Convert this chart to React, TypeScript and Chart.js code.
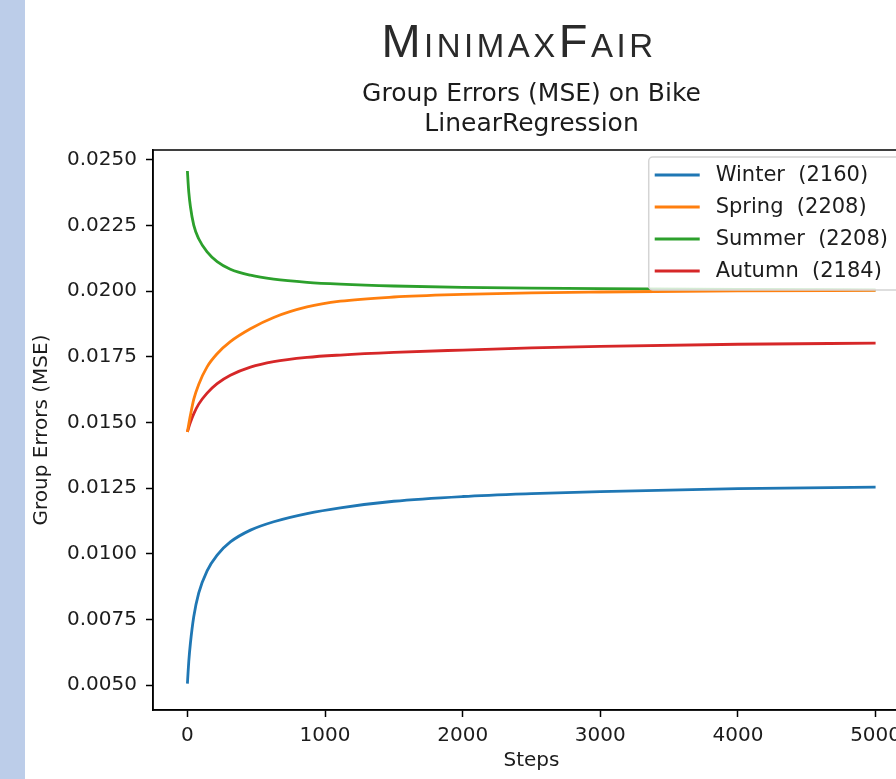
import React, { useEffect, useRef } from 'react';
import { Chart, registerables } from 'chart.js';

Chart.register(...registerables);

// ---- data ----
const steps = [0, 5, 10, 22, 46, 82, 143, 216, 312, 458, 627, 869, 1111, 1500, 2000, 2500, 3000, 4000, 5000];
const winter = [0.00505, 0.0055, 0.0059, 0.0066, 0.0076, 0.0085, 0.00935, 0.00995, 0.01045, 0.0109, 0.01122, 0.01153, 0.01175, 0.0120, 0.01218, 0.01229, 0.01237, 0.01248, 0.01254];
const spring = [0.01464, 0.01479, 0.01494, 0.01528, 0.01588, 0.01645, 0.01712, 0.01762, 0.01808, 0.01857, 0.019, 0.0194, 0.01962, 0.01978, 0.01988, 0.01994, 0.01997, 0.02001, 0.02003];
const summer = [0.02458, 0.02414, 0.02378, 0.02322, 0.02252, 0.022, 0.0215, 0.02113, 0.02084, 0.02061, 0.02046, 0.02034, 0.02027, 0.0202, 0.02015, 0.02012, 0.0201, 0.02007, 0.02005];
const autumn = [0.01464, 0.01473, 0.01482, 0.01501, 0.01533, 0.0157, 0.01612, 0.01648, 0.0168, 0.01711, 0.01732, 0.01748, 0.01757, 0.01767, 0.01776, 0.01784, 0.0179, 0.01798, 0.01802];

const seriesLabels = ['Winter  (2160)', 'Spring  (2208)', 'Summer  (2208)', 'Autumn  (2184)'];
const xTicks = [0, 1000, 2000, 3000, 4000, 5000];
const yTicks = [0.005, 0.0075, 0.01, 0.0125, 0.015, 0.0175, 0.02, 0.0225, 0.025];

const headingText = 'MinimaxFair';
const titleLines = ['Group Errors (MSE) on Bike', 'LinearRegression'];
const xTitle = 'Steps';
const yTitle = 'Group Errors (MSE)';

const seriesColors = ['#1f77b4', '#ff7f0e', '#2ca02c', '#d62728'];
const TEXT = '#1c1c1c';
const FONT = "'DejaVu Sans', sans-serif";

const framePlugin = {
  id: 'axesFrame',
  afterDatasetsDraw(chart: any) {
    const { ctx, chartArea: a } = chart;
    ctx.save();
    ctx.strokeStyle = '#000';
    ctx.lineWidth = 1.5;
    ctx.strokeRect(a.left, a.top, a.right - a.left, a.bottom - a.top);
    ctx.restore();
  },
};

const innerLegendPlugin = {
  id: 'innerLegend',
  afterDraw(chart: any) {
    const { ctx, chartArea: a } = chart;
    const ds = chart.data.datasets;
    ctx.save();
    ctx.font = `21px ${FONT}`;
    let maxW = 0;
    ds.forEach((d: any) => { maxW = Math.max(maxW, ctx.measureText(d.label).width); });
    const boxW = 67 + maxW + 15;
    const rowGap = 32;
    const boxH = 18 + rowGap * (ds.length - 1) + 19;
    const left = a.right - 7 - boxW;
    const top = a.top + 7;
    ctx.beginPath();
    if ((ctx as any).roundRect) (ctx as any).roundRect(left, top, boxW, boxH, 4);
    else ctx.rect(left, top, boxW, boxH);
    ctx.fillStyle = 'rgba(255,255,255,0.8)';
    ctx.fill();
    ctx.strokeStyle = '#d4d4d4';
    ctx.lineWidth = 1.5;
    ctx.stroke();
    ds.forEach((d: any, i: number) => {
      const cy = top + 18 + i * rowGap;
      ctx.beginPath();
      ctx.moveTo(left + 6, cy);
      ctx.lineTo(left + 51, cy);
      ctx.strokeStyle = d.borderColor;
      ctx.lineWidth = 2.8;
      ctx.stroke();
      ctx.fillStyle = TEXT;
      ctx.textAlign = 'left';
      ctx.textBaseline = 'middle';
      ctx.fillText(d.label, left + 67, cy + 1);
    });
    ctx.restore();
  },
};

export default function App() {
  const canvasRef = useRef<HTMLCanvasElement | null>(null);

  useEffect(() => {
    if (!canvasRef.current) return;
    const series = [winter, spring, summer, autumn];
    const chart = new Chart(canvasRef.current, {
      type: 'line',
      data: {
        datasets: series.map((vals, i) => ({
          label: seriesLabels[i],
          data: steps.map((s, j) => ({ x: s, y: vals[j] })),
          borderColor: seriesColors[i],
          backgroundColor: seriesColors[i],
          borderWidth: 2.8,
          pointRadius: 0,
          cubicInterpolationMode: 'monotone' as const,
          fill: false,
        })),
      },
      options: {
        responsive: false,
        animation: false,
        devicePixelRatio: 1,
        layout: { padding: { left: 30, right: 20, top: 0, bottom: 0 } },
        font: { family: FONT, size: 20 },
        plugins: {
          legend: { display: false },
          tooltip: { enabled: false },
          title: {
            display: true,
            text: titleLines,
            fullSize: false,
            color: TEXT,
            font: { family: FONT, size: 25, weight: 'normal', lineHeight: 1.2 },
            padding: { top: 79.6, bottom: 10.4 },
          },
        },
        scales: {
          x: {
            type: 'linear',
            min: -250,
            max: 5250,
            afterBuildTicks: (s: any) => { s.ticks = xTicks.map((v) => ({ value: v })); },
            afterFit: (s: any) => { s.height = 69; },
            ticks: {
              color: TEXT,
              padding: 7,
              font: { family: FONT, size: 20 },
              maxRotation: 0,
              autoSkip: false,
              callback: (v: any) => String(v),
            },
            grid: { display: true, drawOnChartArea: false, drawTicks: true, tickLength: 7, tickColor: '#000', tickWidth: 1.5 },
            border: { display: true, color: '#000', width: 1.5 },
            title: { display: true, text: xTitle, color: TEXT, font: { family: FONT, size: 20, lineHeight: 1.2 }, padding: { top: 0, bottom: 6 } },
          },
          y: {
            type: 'linear',
            min: 0.004048,
            max: 0.02538,
            afterBuildTicks: (s: any) => { s.ticks = yTicks.map((v) => ({ value: v })); },
            afterFit: (s: any) => { s.width = 123; },
            ticks: {
              color: TEXT,
              padding: 9,
              font: { family: FONT, size: 20 },
              autoSkip: false,
              callback: (v: any) => Number(v).toFixed(4),
            },
            grid: { display: true, drawOnChartArea: false, drawTicks: true, tickLength: 7, tickColor: '#000', tickWidth: 1.5 },
            border: { display: true, color: '#000', width: 1.5 },
            title: { display: true, text: yTitle, color: TEXT, font: { family: FONT, size: 20, lineHeight: 1.2 }, padding: { top: 0, bottom: 0 } },
          },
        },
      } as any,
      plugins: [framePlugin, innerLegendPlugin],
    });
    return () => chart.destroy();
  }, []);

  return (
    <div style={{ position: 'fixed', left: 0, top: 0, width: 896, height: 779, overflow: 'hidden', background: '#fff' }}>
      <div style={{ position: 'absolute', left: 0, top: 0, width: 25, height: 779, background: '#bccde9' }} />
      <canvas ref={canvasRef} width={930} height={779} style={{ position: 'absolute', left: 0, top: 0, width: 930, height: 779 }} />
      <div
        style={{
          position: 'absolute',
          left: 519,
          top: 17,
          transform: 'translateX(-50%)',
          whiteSpace: 'nowrap',
          fontFamily: "'Liberation Sans', sans-serif",
          fontSize: 47,
          lineHeight: '47px',
          fontVariant: 'small-caps',
          letterSpacing: 3.5,
          color: '#2a2a2a',
        }}
      >
        {headingText}
      </div>
    </div>
  );
}
